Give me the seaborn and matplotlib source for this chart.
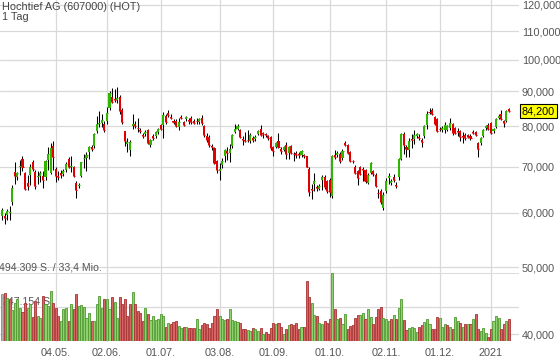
import matplotlib
matplotlib.use('Agg')
import matplotlib.pyplot as plt
import matplotlib.transforms as mtransforms
from matplotlib.ticker import NullLocator
import seaborn as sns
import pandas as pd
import numpy as np

# daily candles, prices in thousand EUR (31.03.2020 - 13.01.2021)
opens = [59.3, 59.3, 59.6, 60.0, 62.2, 68.7, 67.5, 70.0, 71.8, 68.5, 66.3, 68.0, 71.0, 68.8, 67.5, 67.9, 67.8, 67.5, 71.5, 68.5, 75.0, 69.5, 67.9, 68.6, 68.3, 69.3,
         71.8, 70.0, 69.8, 66.3, 65.6, 67.9, 72.0, 72.0, 73.5, 74.7, 74.9, 78.9, 80.8, 81.0, 80.8, 81.5, 85.2, 88.3, 87.6, 87.4, 88.2, 84.5, 78.7, 75.4, 74.0,
         80.0, 80.8, 79.7, 79.0, 77.8, 78.0, 79.0, 75.2, 77.5, 77.5, 78.5, 80.3, 80.3, 82.8, 83.6, 82.6, 81.4, 81.6, 79.9, 82.6, 81.3, 81.9, 81.7, 82.4, 81.6, 81.5, 81.3,
         82.4, 80.1, 77.5, 77.3, 74.9, 74.5, 71.2, 69.0, 70.4, 72.5, 73.8, 73.3, 74.9, 78.6, 79.3, 79.0, 76.7, 76.4, 76.6, 76.1,
         76.9, 76.7, 78.1, 79.3, 78.2, 77.9, 77.5, 77.3, 74.8, 74.8, 76.1, 74.3, 74.0, 75.2, 73.3, 75.0, 73.1, 73.2, 73.0, 72.8,
         72.8, 72.4, 69.5, 65.0, 66.1, 65.3, 65.0, 67.0, 67.7, 66.6, 67.0, 63.5, 72.8, 72.8, 73.0, 72.0, 75.6, 75.2, 73.5, 71.3,
         70.0, 68.9, 70.0, 69.4, 69.1, 66.3, 68.5, 68.9, 68.1, 64.1,
         64.6, 60.9, 64.6, 67.3, 66.3, 67.7, 65.9, 67.7, 71.7, 78.0, 74.8, 73.9, 76.7, 76.8, 77.4, 77.3, 76.6, 77.4, 80.5, 84.1,
         84.5, 82.5, 82.0, 79.4, 79.0, 79.0, 79.0, 79.7, 80.8, 79.5, 78.7, 78.9, 77.4, 77.8, 77.8, 77.5, 78.6, 78.5, 75.6, 75.6,
         77.6, 79.6, 80.5, 81.0, 78.8, 79.8, 82.3, 83.5, 81.6, 81.4, 84.9]
highs = [61.0, 60.0, 60.8, 61.3, 65.8, 71.0, 68.8, 71.5, 72.5, 68.8, 68.0, 70.6, 71.5, 69.2, 69.0, 69.0, 69.0, 71.5, 74.8, 75.8, 76.2, 70.0, 68.9, 69.3, 69.5, 71.0,
         72.3, 72.5, 70.2, 66.8, 66.3, 71.0, 73.0, 73.5, 75.0, 75.2, 78.4, 82.8, 84.3, 83.5, 81.5, 85.5, 90.0, 91.0, 90.7, 91.2, 88.8, 85.0, 78.9, 77.0, 76.5,
         83.3, 81.5, 82.3, 79.6, 78.4, 79.2, 79.3, 76.8, 78.0, 78.9, 79.6, 80.8, 84.0, 83.3, 84.5, 83.4, 82.0, 82.0, 82.2, 83.2, 81.6, 82.8, 82.2, 82.8, 82.0, 82.2, 82.3,
         83.0, 80.5, 78.2, 77.8, 75.5, 74.8, 71.5, 70.8, 71.9, 74.3, 74.8, 75.5, 78.0, 80.8, 80.6, 79.3, 77.5, 78.5, 79.0, 78.2,
         77.5, 77.8, 79.0, 80.5, 78.6, 78.3, 77.8, 77.5, 75.0, 76.0, 78.3, 74.6, 75.0, 76.0, 75.0, 75.3, 73.4, 73.6, 73.4, 74.0,
         73.0, 72.6, 69.8, 66.0, 68.5, 65.8, 66.0, 68.0, 68.0, 67.0, 67.3, 72.8, 74.0, 73.6, 73.4, 74.2, 76.2, 75.5, 73.8, 71.6,
         70.3, 69.2, 70.2, 70.0, 69.4, 68.5, 71.0, 69.2, 68.4, 65.0,
         65.0, 64.2, 67.3, 68.6, 67.2, 68.2, 66.4, 72.0, 78.3, 78.5, 75.2, 77.0, 78.0, 79.0, 78.2, 78.0, 77.0, 80.5, 84.2, 85.2,
         85.0, 82.8, 82.3, 79.8, 80.0, 81.2, 80.5, 82.3, 81.0, 79.8, 79.6, 79.0, 78.5, 78.2, 78.0, 77.9, 79.0, 78.7, 76.0, 77.3,
         79.3, 80.4, 80.9, 81.2, 79.6, 82.3, 83.4, 84.5, 81.8, 84.6, 85.1]
lows = [58.5, 57.8, 58.6, 58.6, 61.5, 66.0, 67.0, 68.0, 69.0, 64.8, 64.8, 65.8, 69.0, 64.9, 66.0, 66.5, 65.2, 67.0, 69.2, 68.2, 69.3, 66.5, 67.0, 67.4, 67.8, 68.8,
        69.6, 68.8, 67.5, 63.0, 65.2, 67.5, 69.6, 69.0, 71.8, 73.8, 74.5, 78.2, 79.9, 79.8, 78.5, 80.8, 84.5, 86.5, 86.8, 86.4, 83.4, 80.7, 75.0, 73.5, 72.4,
        79.3, 79.5, 78.6, 78.2, 77.0, 77.5, 75.4, 74.6, 76.6, 77.0, 78.0, 79.0, 77.0, 80.8, 82.6, 82.0, 80.8, 79.9, 79.2, 82.0, 80.0, 81.5, 80.8, 80.8, 80.6, 80.6, 80.8,
        80.5, 77.3, 76.0, 74.6, 74.0, 70.5, 68.6, 67.0, 69.6, 71.0, 71.5, 71.0, 74.5, 78.3, 79.0, 77.0, 75.3, 76.0, 76.0, 75.8,
        76.0, 76.3, 77.8, 77.5, 77.0, 77.2, 76.5, 74.0, 72.4, 74.4, 74.5, 73.0, 73.7, 71.8, 71.8, 73.0, 71.4, 72.0, 72.0, 72.3,
        72.0, 69.8, 63.5, 62.8, 64.6, 64.5, 64.8, 64.8, 65.0, 64.0, 63.2, 63.0, 71.8, 72.3, 70.8, 71.6, 75.0, 73.0, 71.0, 70.8,
        68.2, 65.8, 68.0, 66.8, 66.2, 66.0, 68.2, 67.8, 65.3, 63.0,
        61.8, 60.5, 64.0, 66.0, 65.8, 66.5, 65.2, 67.0, 71.5, 73.0, 72.2, 72.2, 74.5, 75.5, 77.0, 76.5, 74.6, 77.0, 79.4, 83.5,
        83.0, 80.5, 78.5, 78.8, 78.6, 78.2, 78.8, 79.2, 77.8, 77.9, 77.4, 76.2, 75.6, 76.5, 77.0, 76.6, 78.0, 77.5, 72.2, 75.3,
        77.3, 79.2, 79.0, 78.0, 78.4, 79.5, 82.0, 81.8, 79.8, 81.2, 84.0]
closes = [60.5, 59.0, 60.3, 60.1, 65.2, 67.9, 68.5, 70.1, 70.0, 65.0, 65.6, 70.0, 69.5, 65.5, 67.9, 68.5, 67.0, 71.2, 73.0, 74.5, 72.3, 67.8, 67.7, 68.0, 69.0, 70.5,
          70.0, 70.1, 67.9, 64.7, 65.9, 71.0, 72.1, 72.8, 74.8, 74.1, 77.9, 80.8, 80.9, 81.8, 79.2, 83.8, 89.6, 86.9, 87.5, 87.9, 84.2, 81.2, 76.2, 76.0, 75.9,
          80.8, 80.0, 79.5, 78.8, 77.6, 78.5, 75.8, 76.5, 77.0, 78.5, 79.3, 79.3, 83.0, 81.3, 83.0, 82.4, 81.3, 80.2, 81.3, 82.4, 80.5, 82.5, 81.6, 81.2, 81.0, 81.4, 82.0,
          80.9, 77.8, 76.5, 75.2, 74.7, 70.9, 69.1, 69.5, 71.4, 74.0, 73.2, 74.2, 77.8, 79.3, 80.0, 77.2, 76.5, 76.3, 76.5, 77.8,
          76.5, 77.3, 78.7, 77.8, 78.1, 77.8, 76.9, 74.4, 73.6, 75.6, 74.8, 73.6, 74.8, 73.0, 74.8, 73.3, 73.0, 72.8, 72.7, 73.6,
          72.4, 70.0, 64.3, 64.8, 66.8, 65.2, 65.7, 67.7, 65.4, 64.5, 64.3, 72.4, 72.3, 73.2, 71.2, 73.8, 75.2, 73.3, 71.4, 71.2,
          68.5, 67.4, 68.3, 69.3, 66.6, 68.1, 70.8, 68.3, 65.7, 64.0,
          62.2, 63.6, 66.8, 67.9, 66.6, 66.9, 65.6, 71.7, 78.0, 75.2, 74.3, 76.3, 76.6, 77.8, 77.9, 77.0, 76.0, 80.1, 83.4, 84.0,
          83.3, 80.8, 78.8, 79.3, 79.6, 80.3, 80.0, 81.0, 78.2, 78.2, 78.6, 77.2, 77.3, 76.9, 77.3, 77.0, 78.3, 77.7, 74.3, 77.0,
          79.0, 80.1, 79.3, 78.2, 79.3, 82.0, 82.8, 82.0, 81.0, 84.3, 84.2]

# daily volume in thousand shares
volumes = [342, 349, 313, 305, 225, 276, 305, 240, 211, 276, 240, 269, 174, 291, 182, 167, 327, 269, 254, 364,
           276, 240, 182, 145, 233, 240, 145, 269, 233, 342, 254, 262, 247, 167, 204, 145, 145, 269, 327, 240,
           305, 305, 233, 320, 284, 167, 320, 269, 305, 182, 269, 356, 269, 218, 204, 145, 240, 196, 153, 182,
           153, 160, 196, 182, 102, 131, 124, 138, 145, 109, 95, 102, 102, 95, 95, 95, 160, 87, 116, 131,
           124, 95, 131, 182, 233, 182, 160, 153, 160, 233, 153, 145, 138, 131, 87, 87, 80, 73, 95, 87,
           73, 95, 51, 65, 51, 95, 131, 124, 131,
           102, 51, 87, 116, 124, 116, 131, 87, 102, 102, 436, 320, 276, 189, 182, 131, 124, 145, 131, 160,
           494.309, 233, 160, 167, 124, 196, 87, 109, 116, 167, 189, 189, 204, 160, 233, 174, 124, 174, 233, 247,
           167, 160, 145, 160, 189, 160, 240, 305, 153, 80, 95, 102, 95, 65, 102, 116, 138, 160, 124, 87,
           87, 174, 167, 102, 124, 116, 102, 87, 174, 145, 131, 102, 124, 124, 124, 160, 196, 87, 73, 95,
           58, 29, 87, 145, 182, 167, 87, 124, 145, 160]

holidays = ['2020-04-10', '2020-04-13', '2020-05-01', '2020-06-01',
            '2020-12-24', '2020-12-25', '2020-12-31', '2021-01-01']
tick_dates = ['2020-05-04', '2020-06-02', '2020-07-01', '2020-08-03', '2020-09-01',
              '2020-10-01', '2020-11-02', '2020-12-01', '2021-01-04']
tick_labels = ['04.05.', '02.06.', '01.07.', '03.08.', '01.09.', '01.10.', '02.11.', '01.12.', '2021']
price_ticks = [40, 50, 60, 70, 80, 90, 100, 110, 120]

GREEN = '#2fb400'
RED = '#e00000'
VOL_FILL = {'up': '#8fd06f', 'down': '#d86464', 'flat': '#b0b0b0'}
VOL_EDGE = {'up': '#4f9a30', 'down': '#a83232', 'flat': '#8a8a8a'}

sns.set_theme(style='white')
plt.rcParams['font.family'] = ['Liberation Sans', 'DejaVu Sans']

o = np.array(opens)
h = np.array(highs)
l = np.array(lows)
c = np.array(closes)
v = np.array(volumes)
dates = pd.bdate_range('2020-03-31', periods=len(c), freq='C', holidays=holidays)
idx = np.arange(len(c))
tick_pos = [dates.get_loc(pd.Timestamp(d)) for d in tick_dates]

W, H = 560, 362
ax_w = 519
step = 2.56
xlim = (-2 / step, -2 / step + ax_w / step)

fig = plt.figure(figsize=(W / 100, H / 100), dpi=100)
ax = fig.add_axes([0, 20 / H, ax_w / W, 342 / H])
ax.set_facecolor('white')

# candles
up = c >= o
body_col = np.where(up, GREEN, RED)
ax.vlines(idx, l, h, color='black', lw=0.75, zorder=2)
ax.bar(idx, np.abs(c - o), bottom=np.minimum(o, c), width=0.8, color=body_col, lw=0, zorder=3)
ax.hlines(c, idx - 0.4, idx + 0.4, colors=body_col, lw=0.8, zorder=3)

ax.set_yscale('log')
ax.set_ylim(38.98, 122.0)
ax.set_xlim(*xlim)
ax.yaxis.tick_right()
ax.set_yticks(price_ticks)
ax.yaxis.set_minor_locator(NullLocator())
ax.set_yticklabels([f"{t * 1000:,.0f}" for t in price_ticks])
ax.set_xticks(tick_pos)
ax.set_xticklabels(tick_labels)
ax.tick_params(axis='y', length=0, pad=2, labelsize=7.8, colors='#555555')
ax.tick_params(axis='x', length=0, pad=4, labelsize=7.8, colors='#555555')
ax.grid(True, color='#d9d9d9', lw=0.9)
ax.set_axisbelow(True)
for s in ax.spines.values():
    s.set_visible(False)

# last price marker
trans = mtransforms.blended_transform_factory(ax.transAxes, ax.transData)
ax.text(1.0 + 3 / ax_w, c[-1], f"{c[-1] * 1000:,.0f}", transform=trans, va='center', ha='left',
        fontsize=7.8, color='black', clip_on=False, zorder=5,
        bbox=dict(boxstyle='square,pad=0.18', fc='#ffff00', ec='black', lw=0.8))

# volume panel
axv = fig.add_axes([0, 21 / H, ax_w / W, 68 / H])
axv.patch.set_alpha(0)
vmax = v.max()
prev = np.r_[np.nan, c[:-1]]
vol_dir = np.where(np.isnan(prev), 'flat', np.where(c >= prev, 'up', 'down'))
axv.bar(idx, v, width=0.8, color=[VOL_FILL[d] for d in vol_dir],
        edgecolor=[VOL_EDGE[d] for d in vol_dir], lw=0.6, zorder=2)
axv.axhline(vmax, color='#dcdcdc', lw=1.5, zorder=0)
axv.axhline(vmax / 2, color='#d9d9d9', lw=0.9, zorder=0)
axv.set_xlim(*xlim)
axv.set_ylim(0, vmax)
axv.set_xticks([])
axv.set_yticks([])
for s in axv.spines.values():
    s.set_visible(False)
vtrans = mtransforms.blended_transform_factory(axv.transAxes, axv.transData)
axv.text(-0.002, vmax, '494.309 S. / 33,4 Mio.', transform=vtrans, va='bottom', ha='left',
         fontsize=7.6, color='#555555', zorder=1, clip_on=False)
axv.text(0.003, vmax / 2, '247.154 S.', transform=vtrans, va='bottom', ha='left',
         fontsize=7.6, color='#555555', zorder=1)

fig.text(2 / W, 1 - 7 / H, 'Hochtief AG (607000) (HOT)', va='center', ha='left', fontsize=7.8, color='#444444')
fig.text(2 / W, 1 - 17 / H, '1 Tag', va='center', ha='left', fontsize=7.8, color='#444444')

fig.savefig('out.png', dpi=100)
